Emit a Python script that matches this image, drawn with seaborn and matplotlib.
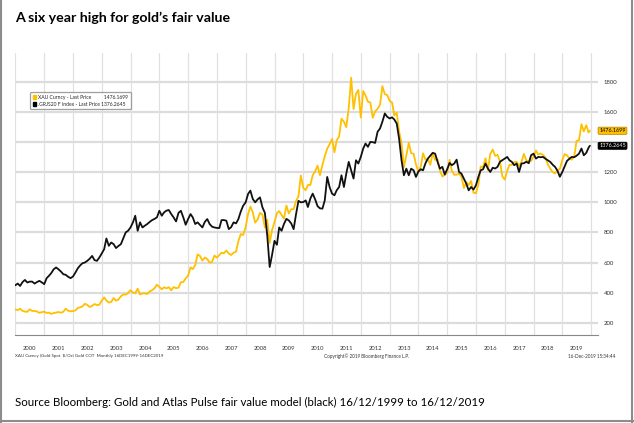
import numpy as np
import pandas as pd
import matplotlib
matplotlib.use("Agg")
import matplotlib.pyplot as plt
import matplotlib.dates as mdates
import matplotlib.transforms as mtrans
from matplotlib.lines import Line2D
from matplotlib.patches import Patch
import seaborn as sns

# ---------------- data ----------------
gold_values = [
    288,
    283, 293, 278, 274, 272, 289, 278, 278, 274, 265, 270, 273,
    265, 267, 258, 264, 267, 271, 266, 273, 293, 279, 275, 277,
    282, 297, 302, 308, 326, 318, 304, 312, 324, 317, 319, 347,
    368, 347, 334, 337, 364, 346, 354, 375, 388, 386, 398, 416,
    400, 396, 426, 388, 394, 395, 391, 408, 416, 429, 453, 438,
    422, 435, 428, 436, 415, 437, 429, 433, 469, 470, 495, 513,
    568, 556, 582, 654, 643, 613, 633, 623, 599, 604, 646, 632,
    650, 665, 662, 680, 659, 650, 665, 672, 743, 789, 783, 836,
    923, 972, 933, 865, 886, 930, 918, 833, 884, 730, 815, 869,
    928, 942, 916, 891, 979, 926, 954, 955, 1008, 1040, 1179, 1096,
    1081, 1116, 1115, 1180, 1207, 1244, 1181, 1248, 1307, 1357, 1386, 1421,
    1333, 1411, 1439, 1556, 1536, 1500, 1628, 1829, 1620, 1722, 1747, 1564,
    1740, 1710, 1668, 1664, 1562, 1604, 1622, 1648, 1773, 1719, 1714, 1675,
    1664, 1578, 1595, 1472, 1393, 1234, 1312, 1396, 1327, 1323, 1253, 1202,
    1240, 1326, 1284, 1288, 1250, 1327, 1282, 1287, 1211, 1172, 1182, 1199,
    1283, 1212, 1183, 1184, 1190, 1172, 1095, 1135, 1115, 1142, 1064, 1061,
    1118, 1238, 1233, 1293, 1215, 1322, 1351, 1309, 1316, 1273, 1173, 1151,
    1211, 1249, 1249, 1268, 1269, 1242, 1269, 1322, 1280, 1271, 1275, 1303,
    1345, 1318, 1325, 1315, 1299, 1253, 1224, 1201, 1192, 1215, 1222, 1282,
    1321, 1313, 1292, 1284, 1305, 1409, 1413, 1520, 1472, 1513, 1464,
    1476.1699,
]

fair_values = [
    449, 460, 444, 470, 484, 467, 473, 473, 460, 470, 478, 468,
    456, 496, 511, 530, 555, 567, 555, 540, 522, 518, 505, 496,
    507, 533, 560, 580, 595, 600, 611, 625, 644, 616, 611, 633,
    660, 689, 760, 711, 733, 722, 696, 710, 722, 760, 800, 811,
    833, 867, 911, 811, 867, 833, 845, 856, 870, 882, 890, 900,
    944, 911, 933, 945, 949, 922, 900, 873, 930, 944, 900, 851,
    889, 922, 900, 856, 867, 850, 833, 870, 889, 856, 838, 833,
    830, 829, 882, 882, 878, 822, 835, 867, 860, 889, 940, 978,
    1000, 1056, 1078, 1022, 1000, 1020, 1033, 967, 930, 780, 570, 650,
    744, 718, 833, 811, 856, 890, 880, 860, 822, 920, 1010, 1000,
    1002, 1013, 969, 1025, 1058, 1020, 975, 960, 958, 1013, 1169, 1102,
    1058, 1047, 1080, 1102, 1180, 1102, 1191, 1269, 1213, 1158, 1280, 1258,
    1302, 1358, 1391, 1369, 1402, 1400, 1395, 1469, 1491, 1536, 1591, 1569,
    1558, 1565, 1551, 1524, 1424, 1280, 1180, 1224, 1180, 1224, 1213, 1169,
    1205, 1220, 1213, 1260, 1291, 1310, 1329, 1324, 1270, 1224, 1236, 1185,
    1220, 1262, 1247, 1258, 1284, 1202, 1191, 1158, 1124, 1080, 1102, 1085,
    1113, 1169, 1213, 1220, 1258, 1225, 1202, 1230, 1225, 1236, 1270, 1280,
    1291, 1302, 1280, 1269, 1247, 1258, 1202, 1258, 1260, 1270, 1260, 1313,
    1324, 1291, 1302, 1300, 1302, 1290, 1280, 1269, 1250, 1236, 1210, 1170,
    1202, 1240, 1275, 1290, 1302, 1300, 1310, 1324, 1358, 1313, 1329, 1364,
    1376.2645,
]

dates = list(pd.date_range("1999-12-31", periods=240, freq="ME")) + [pd.Timestamp("2019-12-16")]

series_names = ["XAU Curncy - Last Price", ".GRJS20 F Index - Last Price"]
last_labels = ["1476.1699", "1376.2645"]
year_labels = [str(y) for y in range(2000, 2020)]
y_ticks = [200, 400, 600, 800, 1000, 1200, 1400, 1600, 1800]
# the 1400 label is hidden behind the last-value tags in the original
y_tick_labels = ["200", "400", "600", "800", "1000", "1200", "", "1600", "1800"]

title = "A six year high for gold\u2019s fair value"
source = "Source Bloomberg: Gold and Atlas Pulse fair value model (black) 16/12/1999 to 16/12/2019"
foot_left = "XAU Curncy (Gold Spot  $/Oz) Gold COT  Monthly 16DEC1999-16DEC2019"
foot_mid = "Copyright\u00a9 2019 Bloomberg Finance L.P."
foot_right = "16-Dec-2019 15:34:44"

GOLD = "#FFC000"
BLACK = "#111111"

df = pd.DataFrame({
    "date": dates * 2,
    "value": gold_values + fair_values,
    "series": [series_names[0]] * len(dates) + [series_names[1]] * len(dates),
})

# ---------------- figure ----------------
sns.set_theme(style="white")
plt.rcParams["font.family"] = ["Lato", "DejaVu Sans"]

W, H = 634, 423
fig = plt.figure(figsize=(W / 100, H / 100), dpi=100)
fig.patch.set_facecolor("white")
ax = fig.add_axes([14.5 / W, 1 - 335 / H, (598 - 14.5) / W, (335 - 53) / H])

sns.lineplot(data=df, x="date", y="value", hue="series",
             palette={series_names[0]: GOLD, series_names[1]: BLACK},
             linewidth=1.3, ax=ax, legend=False, zorder=3)

ax.set_xlim(pd.Timestamp("1999-12-20"), pd.Timestamp("2020-03-28"))
ax.set_ylim(118, 1993)
ax.set_xlabel("")
ax.set_ylabel("")

# grid
for v in y_ticks:
    ax.axhline(v, color="#dcdcdc", linewidth=1.6, zorder=1)
year_starts = [pd.Timestamp(f"{y}-01-01") for y in range(2000, 2021)]
for d in year_starts:
    ax.axvline(d, color="#e0e0e0", linewidth=0.9, zorder=1)

# spines
for s in ["top", "left", "right"]:
    ax.spines[s].set_visible(False)
ax.spines["bottom"].set_color("#888888")
ax.spines["bottom"].set_linewidth(0.8)

# x ticks: year boundaries long, 4-monthly small
ax.set_xticks(year_starts)
ax.set_xticklabels([])
ax.xaxis.set_minor_locator(mdates.MonthLocator(bymonth=[5, 9]))
ax.tick_params(axis="x", which="major", length=12, width=0.6, color="#d0d0d0", direction="out")
ax.tick_params(axis="x", which="minor", length=1.5, width=0.6, color="#666666", direction="out")

trans_x = mtrans.blended_transform_factory(ax.transData, ax.transAxes)
for y, lab in zip(range(2000, 2020), year_labels):
    ax.text(pd.Timestamp(f"{y}-07-02"), -13 / 282, lab, transform=trans_x,
            ha="center", va="center", fontsize=4.2, color="#333333")

# y ticks right
ax.yaxis.tick_right()
ax.set_yticks(y_ticks)
ax.set_yticklabels(y_tick_labels)
ax.tick_params(axis="y", length=0, pad=4, labelsize=4.3, labelcolor="#333333")

# last value tags
trans_y = mtrans.blended_transform_factory(ax.transAxes, ax.transData)
ax.text(1.002, gold_values[-1], last_labels[0], transform=trans_y, ha="left", va="center",
        fontsize=4.0, color="black",
        bbox=dict(boxstyle="round,pad=0.2", facecolor=GOLD, edgecolor="#b08000", linewidth=0.5))
ax.text(1.002, fair_values[-1], last_labels[1], transform=trans_y, ha="left", va="center",
        fontsize=4.0, color="white",
        bbox=dict(boxstyle="round,pad=0.2", facecolor="black", edgecolor="black", linewidth=0.5))

# legend
handles = [Patch(facecolor=GOLD, edgecolor=GOLD), Patch(facecolor="black", edgecolor="black")]
labels = [series_names[0] + "          " + last_labels[0],
          series_names[1] + " " + last_labels[1]]
leg = ax.legend(handles, labels, loc="upper left", bbox_to_anchor=(30 / W, 1 - 92 / H),
                bbox_transform=fig.transFigure, fontsize=3.6, frameon=True, fancybox=True,
                handlelength=0.7, handleheight=0.9, handletextpad=0.4, borderpad=0.55,
                labelspacing=0.4, borderaxespad=0)
leg.get_frame().set_edgecolor("#888888")
leg.get_frame().set_linewidth(0.9)
leg.set_zorder(5)

# texts
fig.text(15 / W, 1 - 18 / H, title, ha="left", va="center", fontsize=10.2,
         fontweight="bold", color="black")
fig.text(15 / W, 1 - 356 / H, foot_left, ha="left", va="center", fontsize=3.2, color="#333333")
fig.text(367 / W, 1 - 356 / H, foot_mid, ha="center", va="center", fontsize=3.3, color="#333333")
fig.text(615 / W, 1 - 356 / H, foot_right, ha="right", va="center", fontsize=3.3, color="#333333")
fig.text(15 / W, 1 - 402 / H, source, ha="left", va="center", fontsize=8.25, color="black")

# border
bc = "#8c8c8c"
fig.add_artist(Line2D([1 / W, 1 / W], [0, 1], transform=fig.transFigure, color=bc, linewidth=1.5))
fig.add_artist(Line2D([632 / W, 632 / W], [0, 1], transform=fig.transFigure, color=bc, linewidth=1.5))
fig.add_artist(Line2D([0, 1], [2 / H, 2 / H], transform=fig.transFigure, color=bc, linewidth=1.5))

fig.savefig("out.png", dpi=100, facecolor="white")
